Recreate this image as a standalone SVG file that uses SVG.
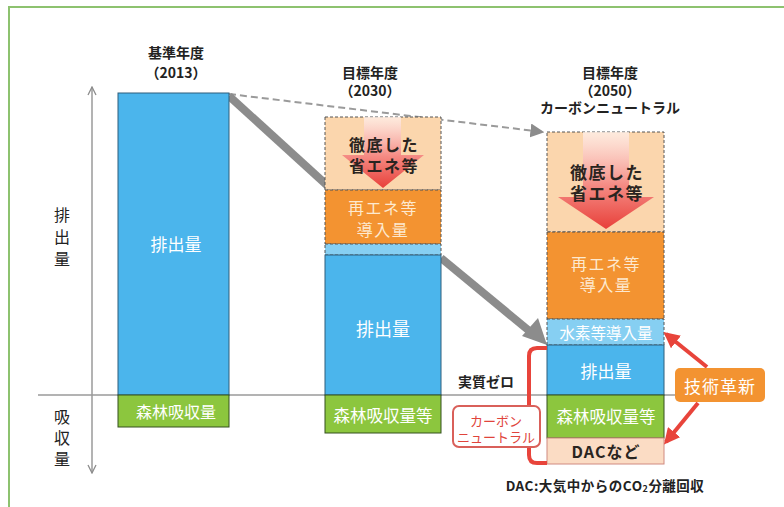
<svg xmlns="http://www.w3.org/2000/svg" width="784" height="507" viewBox="0 0 784 507">
<defs>
<style>
text{font-family:"Noto Sans CJK JP","Noto Sans",sans-serif;text-anchor:middle;dominant-baseline:central}
.ttl{font-size:14px;font-weight:bold;fill:#222}
.w{fill:#fff;font-size:17px}
.dk{fill:#2a2420;font-size:16px;font-weight:bold;letter-spacing:1.5px}
.ax{font-size:16px;fill:#222}
.blue{fill:#4bb5ec;stroke:#2f5f7c;stroke-width:1}
.green{fill:#8cc63e;stroke:#34501e;stroke-width:1}
.peach{fill:#fbd6ad;stroke:#555;stroke-width:1;stroke-dasharray:3 2}
.orange{fill:#f39331;stroke:#555;stroke-width:1;stroke-dasharray:3 2}
.lblue{fill:#86cff2;stroke:#555;stroke-width:1;stroke-dasharray:3 2}
.red{stroke:#e8443b;stroke-width:4;fill:none}
</style>
<linearGradient id="ag" x1="0" y1="0" x2="0" y2="1">
<stop offset="0" stop-color="#fff4f2" stop-opacity="0.7"/>
<stop offset="0.55" stop-color="#f58b84"/>
<stop offset="1" stop-color="#e8403a"/>
</linearGradient>
<marker id="gtri" viewBox="0 0 10 10" refX="9" refY="5" markerWidth="14" markerHeight="14" markerUnits="userSpaceOnUse" orient="auto">
<path d="M0,0 L10,5 L0,10 z" fill="#8c8c8c"/>
</marker>
<marker id="rtri" viewBox="0 0 10 10" refX="8" refY="5" markerWidth="4" markerHeight="4" orient="auto">
<path d="M0,0 L10,5 L0,10 z" fill="#e8443b"/>
</marker>
<marker id="chev" viewBox="0 0 10 10" refX="9" refY="5" markerWidth="10" markerHeight="10" markerUnits="userSpaceOnUse" orient="auto">
<path d="M1,1 L9,5 L1,9" fill="none" stroke="#8c8c8c" stroke-width="1.3"/>
</marker>
</defs>
<rect width="784" height="507" fill="#fff"/>
<path d="M9,507 V7 H784" fill="none" stroke="#8dc26f" stroke-width="2"/>

<g id="axes">
<line x1="38" y1="395" x2="676" y2="395" stroke="#9a9a9a" stroke-width="1.5"/>
<line x1="92" y1="240" x2="92" y2="87" stroke="#9a9a9a" stroke-width="1.5" marker-end="url(#chev)"/>
<line x1="92" y1="240" x2="92" y2="473" stroke="#9a9a9a" stroke-width="1.5" marker-end="url(#chev)"/>
<text x="62" y="214" class="ax">排</text>
<text x="62" y="236" class="ax">出</text>
<text x="62" y="258" class="ax">量</text>
<text x="62" y="416" class="ax">吸</text>
<text x="62" y="437" class="ax">収</text>
<text x="62" y="458" class="ax">量</text>
</g>

<g id="connectors">
<line x1="229" y1="94" x2="543" y2="132" stroke="#9a9a9a" stroke-width="2" stroke-dasharray="7 4" marker-end="url(#gtri)"/>
<line x1="229" y1="96" x2="330" y2="188" stroke="#8c8c8c" stroke-width="8"/>
<line x1="441" y1="258" x2="533" y2="334" stroke="#8c8c8c" stroke-width="8"/>
<path d="M547,345 L522,336 L538,318 z" fill="#8c8c8c"/>
</g>

<g id="bar2013">
<text x="176" y="52" class="ttl">基準年度</text>
<text x="176" y="72" class="ttl">（2013）</text>
<rect x="118" y="93" width="111" height="302" class="blue"/>
<text x="176" y="243" class="w">排出量</text>
<rect x="118" y="395" width="111" height="32" class="green"/>
<text x="176" y="411" class="w" style="font-size:16px">森林吸収量</text>
</g>

<g id="bar2030">
<text x="370" y="72" class="ttl">目標年度</text>
<text x="370" y="90" class="ttl">（2030）</text>
<rect x="325" y="117" width="116" height="73" class="peach"/>
<path d="M364,117 H401 V155 H424 L383,188 L342,155 H364 z" fill="url(#ag)"/>
<text x="384" y="144" class="dk">徹底した</text>
<text x="384" y="165" class="dk">省エネ等</text>
<rect x="325" y="190" width="116" height="54" class="orange"/>
<text x="383" y="207" class="w" style="fill:#fde9cf;font-size:16px;letter-spacing:1.5px">再エネ等</text>
<text x="383" y="229" class="w" style="fill:#fde9cf;font-size:16px;letter-spacing:1.5px">導入量</text>
<rect x="325" y="244" width="116" height="11" class="lblue"/>
<rect x="325" y="255" width="116" height="140" class="blue"/>
<text x="383" y="328" class="w" style="font-size:18px">排出量</text>
<rect x="325" y="395" width="116" height="38" class="green"/>
<text x="383" y="415" class="w" style="font-size:16.5px">森林吸収量等</text>
</g>

<g id="bar2050">
<text x="610" y="72" class="ttl">目標年度</text>
<text x="610" y="90" class="ttl">（2050）</text>
<text x="610" y="107" class="ttl">カーボンニュートラル</text>
<rect x="547" y="132" width="117" height="100" class="peach"/>
<path d="M583,132 H629 V197 H654 L606,229 L558,197 H583 z" fill="url(#ag)"/>
<text x="607" y="171" class="dk" style="font-size:17px">徹底した</text>
<text x="607" y="192" class="dk" style="font-size:17px">省エネ等</text>
<rect x="547" y="232" width="117" height="87" class="orange"/>
<text x="606" y="263" class="w" style="fill:#fde9cf;font-size:16px;letter-spacing:1.5px">再エネ等</text>
<text x="606" y="284" class="w" style="fill:#fde9cf;font-size:16px;letter-spacing:1.5px">導入量</text>
<rect x="547" y="319" width="117" height="26" class="lblue"/>
<text x="606" y="332" class="w" style="font-size:15.5px">水素等導入量</text>
<rect x="547" y="345" width="117" height="50" class="blue"/>
<text x="606" y="370" class="w" style="font-size:17px">排出量</text>
<rect x="547" y="395" width="117" height="43" class="green"/>
<text x="606" y="416" class="w" style="font-size:16.5px">森林吸収量等</text>
<rect x="547" y="438" width="117" height="26" fill="#fbdcc4" stroke="#d08a80" stroke-width="1"/>
<text x="606" y="451" style="font-size:16px;font-weight:bold;fill:#2a2420;letter-spacing:1px">DACなど</text>
</g>

<g id="zero">
<text x="486" y="381" style="font-size:14px;font-weight:bold;fill:#222">実質ゼロ</text>
</g>

<g id="bracket">
<path d="M547,348 H537 Q529,348 529,356 V455 Q529,463 537,463 H547" class="red"/>
</g>

<g id="cn">
<rect x="453" y="406" width="87" height="41" rx="6" fill="#fff" stroke="#d9605a" stroke-width="2"/>
<text x="496" y="420" style="font-size:13px;fill:#e0443b">カーボン</text>
<text x="496" y="436" style="font-size:13px;fill:#e0443b">ニュートラル</text>
</g>

<g id="tech">
<line x1="707" y1="367" x2="666" y2="334" class="red" marker-end="url(#rtri)"/>
<line x1="698" y1="403" x2="666" y2="442" class="red" marker-end="url(#rtri)"/>
<rect x="675" y="368" width="90" height="34" rx="5" fill="#f39331"/>
<text x="720" y="385" style="font-size:17px;fill:#fff;letter-spacing:1px">技術革新</text>
</g>

<g id="caption">
<text x="605" y="485" style="font-size:13.5px;font-weight:bold;fill:#222;letter-spacing:0.5px">DAC:大気中からのCO<tspan style="font-size:9px" dy="3">2</tspan><tspan dy="-3">分離回収</tspan></text>
</g>
</svg>
